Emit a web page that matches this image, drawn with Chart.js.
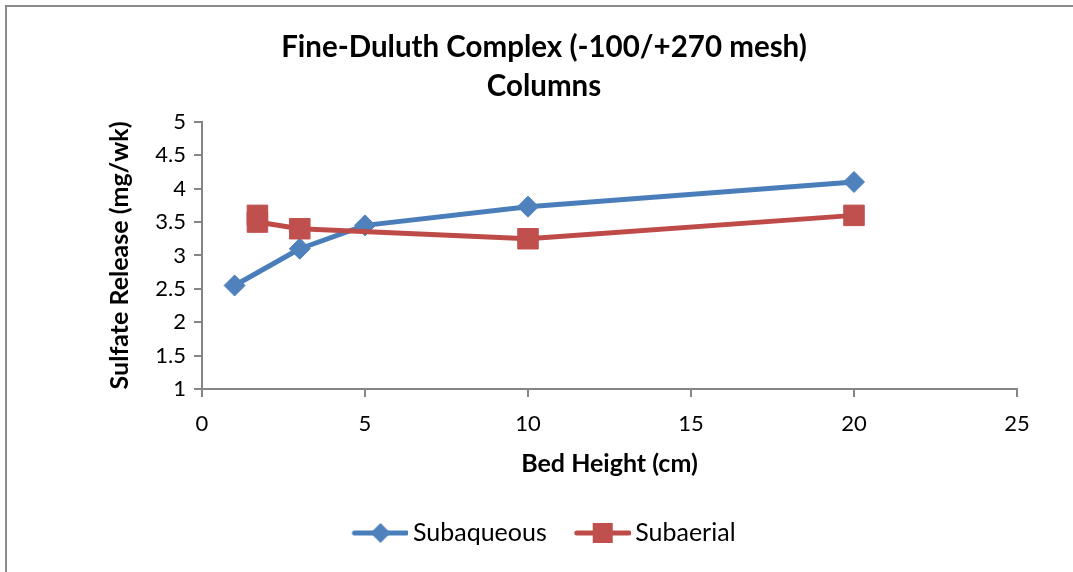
<!DOCTYPE html>
<html>
<head>
<meta charset="utf-8">
<title>Fine-Duluth Complex (-100/+270 mesh) Columns</title>
<script src="https://cdn.jsdelivr.net/npm/chart.js@4.4.1/dist/chart.umd.min.js"></script>
<style>
  html, body { margin: 0; padding: 0; background: #ffffff; }
  #wrap { position: relative; width: 1073px; height: 572px; }
</style>
</head>
<body>
<div id="wrap"><canvas id="chart" width="1073" height="572"></canvas></div>
<script>
// Bed height (cm) and weekly sulfate release (mg/wk) for each column series
const subaqueousHeight = [1, 3, 5, 10, 20];
const subaqueousRelease = [2.55, 3.1, 3.45, 3.73, 4.1];
const subaerialHeight = [1.7, 1.7, 3, 10, 20];
const subaerialRelease = [3.6, 3.5, 3.4, 3.25, 3.6];

const seriesNames = ['Subaqueous', 'Subaerial'];
const titleLines = ['Fine-Duluth Complex (-100/+270 mesh)', 'Columns'];
const xAxisTitle = 'Bed Height (cm)';
const yAxisTitle = 'Sulfate Release (mg/wk)';
const xTicks = [0, 5, 10, 15, 20, 25];
const yTicks = [1, 1.5, 2, 2.5, 3, 3.5, 4, 4.5, 5];

const FONT = "Lato, 'Open Sans', sans-serif";
const AXIS_GREY = '#868686';
const BLUE_LINE = '#4A7EBB', BLUE_FILL = '#4F81BD';
const RED_LINE = '#BE4B48', RED_FILL = '#C0504D';

function toPoints(xs, ys) {
  return xs.map((x, i) => ({ x: x, y: ys[i] }));
}

// Legend swatch: a short thick line with the series marker in the middle
function legendSwatch(lineColor, fillColor, marker) {
  const c = document.createElement('canvas');
  c.width = 64; c.height = 26;
  const g = c.getContext('2d');
  g.strokeStyle = lineColor;
  g.lineWidth = 5;
  g.lineCap = 'round';
  g.beginPath(); g.moveTo(10, 13); g.lineTo(62, 13); g.stroke();
  g.fillStyle = fillColor;
  g.beginPath();
  if (marker === 'diamond') {
    g.moveTo(36, 3); g.lineTo(46, 13); g.lineTo(36, 23); g.lineTo(26, 13);
  } else {
    g.rect(26, 3, 20, 20);
  }
  g.closePath(); g.fill();
  return c;
}

// Frame drawn around the chart (top and left edges fall inside the window)
const framePlugin = {
  id: 'frame',
  beforeDraw(chart) {
    const ctx = chart.ctx;
    ctx.save();
    ctx.fillStyle = '#ffffff';
    ctx.fillRect(0, 0, chart.width, chart.height);
    ctx.strokeStyle = '#8a8a8a';
    ctx.lineWidth = 2;
    ctx.beginPath();
    ctx.moveTo(6, chart.height);
    ctx.lineTo(6, 6);
    ctx.lineTo(chart.width, 6);
    ctx.stroke();
    ctx.restore();
  }
};

function draw() {
  const swatches = [
    legendSwatch(BLUE_LINE, BLUE_FILL, 'diamond'),
    legendSwatch(RED_LINE, RED_FILL, 'square')
  ];

  new Chart(document.getElementById('chart'), {
    type: 'line',
    data: {
      datasets: [
        {
          label: seriesNames[0],
          data: toPoints(subaqueousHeight, subaqueousRelease),
          borderColor: BLUE_LINE,
          backgroundColor: BLUE_FILL,
          borderWidth: 5,
          borderJoinStyle: 'round',
          borderCapStyle: 'round',
          pointStyle: 'rectRot',
          pointRadius: 10.5,
          pointBorderWidth: 1,
          pointBorderColor: BLUE_FILL,
          pointBackgroundColor: BLUE_FILL,
          tension: 0,
          order: 1
        },
        {
          label: seriesNames[1],
          data: toPoints(subaerialHeight, subaerialRelease),
          borderColor: RED_LINE,
          backgroundColor: RED_FILL,
          borderWidth: 5,
          borderJoinStyle: 'round',
          borderCapStyle: 'round',
          pointStyle: 'rect',
          pointRadius: 14.5,
          pointBorderWidth: 1,
          pointBorderColor: RED_FILL,
          pointBackgroundColor: RED_FILL,
          tension: 0,
          order: 0
        }
      ]
    },
    options: {
      responsive: false,
      animation: false,
      events: [],
      layout: { padding: { left: 71, right: 56, top: 0, bottom: 16.5 } },
      plugins: {
        title: {
          display: true,
          text: titleLines,
          color: '#000000',
          font: { family: FONT, size: 29.5, weight: 'bold', lineHeight: 1.32 },
          padding: { top: 28.5, bottom: 15.5 }
        },
        legend: {
          display: true,
          position: 'bottom',
          labels: {
            color: '#000000',
            font: { family: FONT, size: 25 },
            usePointStyle: true,
            pointStyleWidth: 48,
            padding: 28,
            generateLabels(chart) {
              return chart.data.datasets.map((ds, i) => ({
                text: ds.label,
                pointStyle: swatches[i],
                fillStyle: ds.backgroundColor,
                strokeStyle: ds.borderColor,
                lineWidth: 0,
                hidden: false,
                datasetIndex: i,
                fontColor: '#000000'
              }));
            }
          }
        },
        tooltip: { enabled: false }
      },
      scales: {
        x: {
          type: 'linear',
          min: xTicks[0],
          max: xTicks[xTicks.length - 1],
          afterBuildTicks(scale) { scale.ticks = xTicks.map(v => ({ value: v })); },
          afterFit(scale) { scale.height = 103.5; },
          border: { display: true, color: AXIS_GREY, width: 2 },
          grid: { drawOnChartArea: false, drawTicks: true, tickLength: 8, color: AXIS_GREY, lineWidth: 2 },
          ticks: { color: '#000000', font: { family: FONT, size: 22 }, padding: 14, maxRotation: 0,
                   callback: v => String(v) },
          title: {
            display: true,
            text: xAxisTitle,
            color: '#000000',
            font: { family: FONT, size: 25, weight: 'bold' },
            padding: { top: 0, bottom: 14 }
          }
        },
        y: {
          type: 'linear',
          min: yTicks[0],
          max: yTicks[yTicks.length - 1],
          afterBuildTicks(scale) { scale.ticks = yTicks.map(v => ({ value: v })); },
          afterFit(scale) { scale.width = 131; },
          border: { display: true, color: AXIS_GREY, width: 2 },
          grid: { drawOnChartArea: false, drawTicks: true, tickLength: 8, color: AXIS_GREY, lineWidth: 2 },
          ticks: { color: '#000000', font: { family: FONT, size: 22 }, padding: 8,
                   callback: v => String(v) },
          title: {
            display: true,
            text: yAxisTitle,
            color: '#000000',
            font: { family: FONT, size: 25, weight: 'bold' },
            padding: { top: 34, bottom: 0 }
          }
        }
      }
    },
    plugins: [framePlugin]
  });
}

Promise.all([
  document.fonts.load("bold 30px Lato"),
  document.fonts.load("25px Lato")
]).then(draw, draw);
</script>
</body>
</html>
